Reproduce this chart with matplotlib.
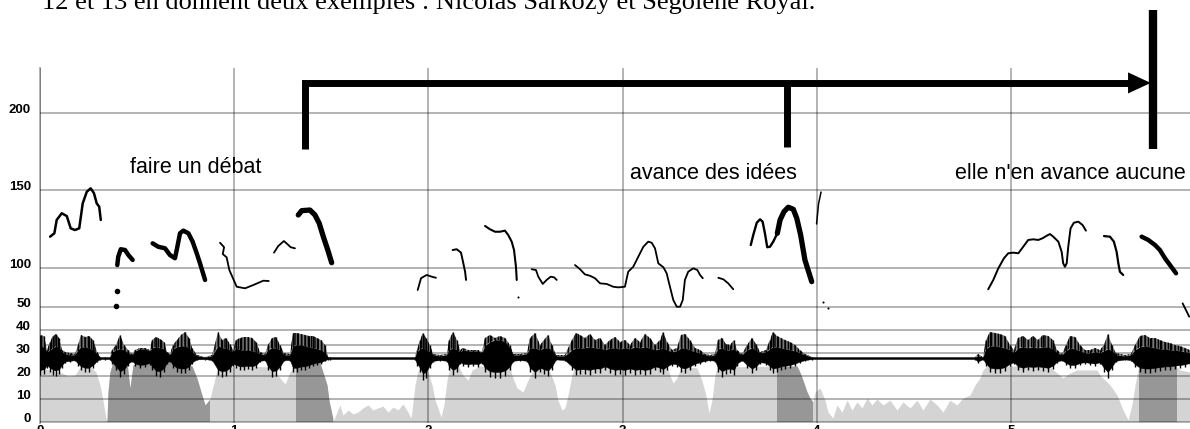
import matplotlib
matplotlib.use("Agg")
import matplotlib.pyplot as plt
from matplotlib.patches import Rectangle
from matplotlib.transforms import blended_transform_factory, ScaledTranslation

# ---------------------------------------------------------------- text
caption = "12 et 13 en donnent deux exemples : Nicolas Sarkozy et Ségolène Royal."
phrase_labels = ["faire un débat", "avance des idées", "elle n'en avance aucune"]
phrase_pos = [(0.463, 161.3), (3.038, 157.4), (4.712, 157.4)]   # (s, Hz) of text baseline start

time_ticks = [0, 1, 2, 3, 4, 5]
intensity_ticks = [0, 10, 20, 30, 40, 50]
pitch_ticks = [100, 150, 200]
pitch_grid = [50, 100, 150, 200]

# ---------------------------------------------------------------- intensity curve (dB)
int_t = [0.000, 0.051, 0.103, 0.144, 0.180, 0.206, 0.257, 0.288, 0.309, 0.324, 0.340, 0.345,
         0.350, 0.360, 0.376, 0.412, 0.448, 0.463, 0.479, 0.515, 0.618, 0.721, 0.783, 0.808,
         0.834, 0.850, 0.875, 0.891, 0.911, 0.953, 1.081, 1.184, 1.236, 1.262, 1.287, 1.318,
         1.390, 1.442, 1.457, 1.478, 1.488, 1.504, 1.514, 1.529, 1.545, 1.560, 1.586, 1.612,
         1.637, 1.663, 1.689, 1.715, 1.740, 1.766, 1.792, 1.818, 1.843, 1.869, 1.895, 1.910,
         1.916, 1.931, 1.946, 1.967, 1.998, 2.019, 2.034, 2.044, 2.065, 2.080, 2.096, 2.111,
         2.152, 2.178, 2.204, 2.225, 2.266, 2.420, 2.430, 2.456, 2.487, 2.513, 2.539, 2.600,
         2.626, 2.652, 2.667, 2.688, 2.703, 2.719, 2.739, 2.755, 3.090, 3.229, 3.244, 3.260,
         3.280, 3.296, 3.347, 3.383, 3.408, 3.429, 3.445, 3.460, 3.476, 3.486, 3.800, 3.898,
         3.913, 3.929, 3.950, 3.965, 3.981, 3.991, 4.017, 4.042, 4.058, 4.083, 4.104, 4.130,
         4.156, 4.181, 4.207, 4.233, 4.259, 4.284, 4.310, 4.341, 4.377, 4.413, 4.444, 4.480,
         4.516, 4.547, 4.583, 4.619, 4.650, 4.686, 4.722, 4.753, 4.789, 4.815, 4.840, 4.856,
         4.876, 5.046, 5.201, 5.237, 5.268, 5.304, 5.340, 5.443, 5.458, 5.510, 5.546, 5.577,
         5.603, 5.623, 5.639, 5.654, 5.664, 5.850, 5.870, 5.922]
int_db = [23.3, 22.4, 21.5, 19.8, 20.2, 23.7, 24.1, 21.5, 15.9, 9.3, 1.1, 0.2,
          12.8, 21.5, 25.9, 26.7, 25.9, 14.6, 24.6, 25.9, 26.7, 26.3, 24.1, 18.9,
          11.5, 7.2, 9.8, 15.4, 22.0, 23.7, 24.1, 23.7, 18.9, 16.3, 21.5, 24.1,
          25.4, 25.4, 21.5, 15.9, 9.3, 2.8, 0.7, 4.1, 7.2, 2.8, 5.0, 3.3,
          4.1, 5.9, 7.2, 5.0, 5.9, 6.7, 4.1, 6.3, 5.0, 7.6, 4.1, 1.5,
          5.0, 15.9, 21.5, 24.6, 21.5, 15.9, 9.3, 7.2, 2.0, 7.2, 18.0, 23.3,
          24.6, 20.2, 18.0, 22.4, 24.1, 24.1, 20.2, 14.6, 12.8, 18.0, 22.4, 23.7,
          21.5, 15.9, 9.3, 5.0, 5.9, 11.5, 20.2, 24.1, 24.1, 23.7, 20.2, 16.7,
          18.9, 22.4, 23.7, 23.3, 18.0, 11.5, 3.7, 9.3, 20.2, 23.7, 24.1, 24.1,
          21.5, 18.0, 12.8, 10.2, 8.5, 12.8, 14.6, 9.3, 4.1, 1.5, 7.2, 4.1,
          9.3, 5.0, 8.5, 5.9, 10.2, 7.2, 9.8, 7.2, 9.3, 5.0, 8.5, 5.9,
          9.3, 5.0, 9.8, 7.2, 4.1, 9.3, 7.2, 10.2, 11.5, 15.9, 18.9, 22.4,
          24.1, 24.1, 23.7, 21.1, 18.9, 21.1, 22.4, 22.4, 20.2, 15.9, 11.5, 5.0,
          0.7, 7.2, 15.9, 22.4, 24.1, 24.1, 22.4, 21.5]
# stressed syllables, shaded darker (s)
highlight_spans = [(0.345, 0.870), (1.318, 1.504), (3.795, 3.975), (5.659, 5.850)]

# ---------------------------------------------------------------- waveform envelope
wave_t = [0.000, 0.021, 0.036, 0.051, 0.067, 0.082, 0.098, 0.113, 0.129, 0.154, 0.180, 0.196,
          0.211, 0.232, 0.252, 0.273, 0.294, 0.309, 0.335, 0.360, 0.371, 0.391, 0.412, 0.433,
          0.453, 0.474, 0.489, 0.515, 0.541, 0.566, 0.577, 0.597, 0.618, 0.639, 0.654, 0.669,
          0.685, 0.705, 0.726, 0.747, 0.767, 0.783, 0.808, 0.850, 0.886, 0.917, 0.937, 0.958,
          0.978, 0.994, 1.009, 1.030, 1.050, 1.071, 1.092, 1.112, 1.133, 1.159, 1.174, 1.195,
          1.215, 1.236, 1.256, 1.287, 1.303, 1.323, 1.344, 1.365, 1.385, 1.406, 1.426, 1.447,
          1.468, 1.483, 1.493, 1.931, 1.941, 1.957, 1.972, 1.988, 2.008, 2.024, 2.060, 2.096,
          2.106, 2.127, 2.147, 2.163, 2.178, 2.204, 2.230, 2.255, 2.276, 2.291, 2.317, 2.343,
          2.369, 2.394, 2.420, 2.436, 2.472, 2.508, 2.523, 2.549, 2.575, 2.595, 2.616, 2.636,
          2.657, 2.703, 2.739, 2.760, 2.781, 2.806, 2.832, 2.858, 2.884, 2.909, 2.935, 2.961,
          2.987, 3.012, 3.038, 3.064, 3.090, 3.115, 3.141, 3.167, 3.193, 3.208, 3.229, 3.254,
          3.280, 3.301, 3.321, 3.347, 3.373, 3.399, 3.424, 3.450, 3.476, 3.491, 3.512, 3.532,
          3.553, 3.574, 3.589, 3.615, 3.641, 3.666, 3.687, 3.708, 3.738, 3.759, 3.774, 3.795,
          3.816, 3.836, 3.862, 3.888, 3.913, 3.939, 3.975, 4.815, 4.830, 4.856, 4.871, 4.892,
          4.918, 4.943, 4.969, 4.995, 5.015, 5.036, 5.062, 5.088, 5.113, 5.139, 5.165, 5.191,
          5.216, 5.237, 5.263, 5.283, 5.304, 5.330, 5.355, 5.381, 5.407, 5.433, 5.458, 5.479,
          5.499, 5.520, 5.540, 5.587, 5.618, 5.639, 5.664, 5.690, 5.716, 5.742, 5.767, 5.793,
          5.819, 5.845, 5.870, 5.896, 5.922]
wave_peak = [23, 22, 8, 16, 22, 24, 20, 8, 6, 5, 4, 13,
             23, 21, 22, 18, 6, 1, 1, 1, 8, 13, 23, 13,
             8, 4, 8, 10, 10, 8, 18, 21, 19, 16, 6, 4,
             13, 18, 23, 26, 20, 10, 3, 1, 3, 26, 18, 20,
             14, 8, 18, 20, 21, 21, 20, 16, 6, 4, 13, 20,
             21, 13, 5, 4, 25, 25, 24, 23, 22, 22, 20, 18,
             13, 1, 1, 1, 8, 18, 25, 20, 13, 4, 3, 4,
             18, 26, 18, 8, 10, 8, 8, 8, 6, 20, 23, 20,
             22, 20, 13, 4, 4, 5, 20, 25, 13, 18, 23, 13,
             3, 3, 18, 25, 23, 20, 24, 18, 20, 13, 18, 21,
             16, 18, 13, 20, 16, 24, 20, 13, 18, 26, 16, 8,
             10, 23, 24, 18, 10, 8, 4, 3, 4, 18, 20, 14,
             13, 18, 8, 4, 13, 20, 14, 6, 8, 18, 26, 22,
             20, 18, 16, 13, 8, 4, 1, 1, 4, 1, 18, 26,
             25, 24, 22, 13, 8, 20, 22, 18, 22, 18, 23, 22,
             18, 8, 4, 13, 22, 21, 13, 8, 8, 10, 8, 13,
             24, 13, 5, 3, 4, 13, 22, 23, 20, 20, 18, 16,
             15, 13, 12, 10, 8]
wave_core = [13, 10, 6, 8, 10, 12, 10, 6, 4, 3, 3, 8,
             11, 11, 10, 8, 4, 1, 1, 1, 6, 8, 9, 8,
             5, 3, 7, 9, 9, 7, 10, 11, 10, 9, 5, 3,
             9, 11, 12, 12, 10, 6, 2, 1, 2, 12, 10, 10,
             8, 6, 10, 8, 8, 8, 7, 6, 4, 3, 8, 10,
             10, 8, 3, 3, 12, 13, 13, 12, 11, 10, 9, 8,
             5, 1, 1, 1, 6, 9, 10, 8, 6, 3, 2, 3,
             8, 10, 8, 6, 8, 7, 7, 7, 5, 12, 16, 18,
             18, 16, 10, 3, 3, 4, 10, 10, 8, 10, 10, 8,
             2, 2, 8, 10, 10, 10, 11, 10, 10, 8, 10, 10,
             9, 10, 9, 11, 10, 11, 10, 8, 9, 10, 8, 6,
             7, 10, 10, 8, 6, 5, 3, 2, 3, 9, 10, 8,
             8, 9, 6, 3, 8, 10, 8, 5, 6, 9, 11, 11,
             10, 9, 8, 7, 5, 3, 1, 1, 2, 1, 9, 12,
             12, 11, 10, 8, 5, 10, 11, 10, 11, 10, 11, 11,
             9, 5, 3, 7, 10, 9, 7, 5, 5, 6, 5, 7,
             9, 7, 3, 2, 3, 8, 11, 12, 11, 10, 9, 9,
             8, 8, 7, 6, 5]
wave_trough = [-17, -16, -10, -14, -17, -18, -16, -10, -5, -4, -3, -8,
               -12, -14, -14, -10, -4, -1.5, -1.5, -1.5, -6, -12, -19, -16,
               -8, -4, -8, -10, -9, -7, -12, -18, -19, -14, -6, -4,
               -10, -14, -15, -15, -12, -6, -2, -1.5, -3, -17, -19, -18,
               -14, -8, -10, -12, -12, -11, -12, -10, -4, -3, -12, -19,
               -18, -12, -3, -3, -14, -14, -12, -12, -10, -8, -7, -6,
               -3, -1.5, -1.5, -1.5, -8, -14, -22, -20, -10, -4, -3, -4,
               -12, -17, -14, -6, -8, -9, -8, -9, -6, -14, -19, -20,
               -20, -18, -12, -4, -3, -4, -14, -20, -14, -16, -18, -12,
               -2, -3, -12, -17, -16, -16, -17, -15, -15, -12, -15, -17,
               -16, -17, -15, -17, -16, -17, -16, -12, -14, -16, -12, -8,
               -9, -14, -15, -12, -8, -6, -4, -3, -4, -14, -19, -16,
               -15, -17, -8, -3, -10, -15, -12, -6, -7, -12, -15, -14,
               -12, -11, -10, -8, -5, -3, -1.5, -1.5, -5, -1.5, -8, -14,
               -15, -15, -13, -8, -6, -12, -14, -12, -13, -12, -13, -14,
               -11, -5, -3, -7, -10, -10, -7, -6, -7, -8, -6, -14,
               -20, -12, -4, -2, -3, -9, -14, -15, -15, -14, -13, -12,
               -12, -11, -10, -9, -7]

# ---------------------------------------------------------------- F0 contours (s, Hz, line width pt)
f0_segments = [
    ([0.052, 0.074, 0.086, 0.112, 0.138, 0.158, 0.180, 0.202, 0.220, 0.241, 0.261, 0.278, 0.292, 0.305, 0.313],
     [120.2, 122.4, 131.0, 135.3, 133.5, 125.6, 124.5, 125.6, 141.7, 149.2, 151.4, 148.2, 141.7, 139.5, 131.0], 1.8),
    ([0.398, 0.403, 0.416, 0.438, 0.455, 0.477],
     [101.9, 107.3, 112.1, 111.6, 108.4, 105.2], 3.2),
    ([0.580, 0.609, 0.644, 0.669, 0.695, 0.704, 0.721, 0.738, 0.764, 0.786, 0.807, 0.824, 0.850],
     [115.9, 113.7, 112.7, 108.4, 106.3, 111.6, 122.4, 124.1, 122.4, 117.0, 109.5, 103.0, 92.3], 3.2),
    ([0.927, 0.948, 0.941, 0.961, 0.975, 1.013, 1.056, 1.098, 1.150, 1.178],
     [116.3, 113.4, 109.0, 106.9, 98.7, 87.9, 86.9, 89.0, 91.8, 91.6], 1.3),
    ([1.205, 1.227, 1.256, 1.273, 1.291, 1.313],
     [109.9, 114.2, 117.4, 115.5, 113.4, 112.7], 1.3),
    ([1.330, 1.348, 1.390, 1.416, 1.438, 1.459, 1.482, 1.502],
     [134.2, 137.0, 137.4, 134.2, 128.8, 120.2, 111.6, 103.4], 3.8),
    ([1.945, 1.962, 1.991, 2.017, 2.039],
     [85.8, 93.4, 95.5, 94.4, 93.7], 1.3),
    ([2.125, 2.146, 2.168, 2.180, 2.189, 2.194],
     [111.6, 112.1, 109.9, 103.0, 97.6, 92.3], 1.4),
    ([2.292, 2.317, 2.343, 2.369, 2.394, 2.411, 2.429, 2.441, 2.451, 2.455],
     [127.1, 125.0, 123.4, 123.4, 124.1, 121.3, 117.0, 111.6, 100.8, 92.3], 1.5),
    ([2.532, 2.554, 2.566, 2.589, 2.609, 2.630, 2.647, 2.661],
     [99.2, 98.7, 94.4, 89.7, 92.3, 94.4, 94.0, 92.3], 1.3),
    ([2.755, 2.781, 2.806, 2.832, 2.858, 2.884, 2.918, 2.952, 2.978, 3.012, 3.029, 3.055, 3.081,
      3.107, 3.132, 3.150, 3.167, 3.184, 3.210, 3.227, 3.244, 3.261, 3.279, 3.296, 3.310, 3.321,
      3.338, 3.364, 3.385, 3.399, 3.413],
     [101.9, 99.2, 95.9, 95.0, 93.4, 90.1, 89.7, 87.9, 87.5, 87.9, 97.6, 100.8, 107.3,
      113.7, 117.0, 116.3, 112.7, 103.0, 100.5, 96.6, 87.9, 79.4, 75.0, 75.0, 79.4, 92.3,
      97.6, 99.8, 98.7, 95.5, 93.4], 1.3),
    ([3.493, 3.519, 3.544, 3.570],
     [93.7, 92.7, 90.1, 86.3], 1.3),
    ([3.660, 3.673, 3.691, 3.708, 3.721, 3.733, 3.745, 3.759, 3.776, 3.797],
     [114.8, 121.3, 129.2, 131.4, 129.9, 122.4, 113.4, 113.7, 117.0, 122.4], 1.7),
    ([3.797, 3.811, 3.831, 3.853, 3.879, 3.897, 3.917, 3.939, 3.974],
     [122.4, 131.0, 136.3, 139.2, 137.9, 132.1, 121.3, 105.2, 91.2], 3.8),
    ([4.022, 4.009, 3.999],
     [149.0, 141.3, 128.4], 1.1),
    ([4.883, 4.909, 4.935, 4.964, 4.986, 5.012, 5.038, 5.063, 5.089, 5.115, 5.141, 5.163, 5.184,
      5.201, 5.218, 5.244, 5.261, 5.269, 5.278, 5.287, 5.295, 5.307, 5.324, 5.347, 5.369, 5.386],
     [86.3, 92.3, 99.8, 106.3, 109.5, 109.9, 109.5, 113.7, 118.1, 118.5, 118.1, 119.2, 120.8,
      121.9, 120.2, 117.0, 110.5, 103.0, 100.8, 103.0, 113.7, 125.6, 129.2, 129.9, 127.7, 124.1], 1.4),
    ([5.479, 5.510, 5.530, 5.544, 5.553, 5.561, 5.578],
     [120.6, 120.2, 117.0, 110.5, 103.0, 97.6, 95.5], 1.6),
    ([5.673, 5.707, 5.742, 5.767, 5.793, 5.819, 5.850],
     [120.2, 118.1, 114.8, 111.6, 106.3, 101.9, 96.6], 3.2),
    ([5.884, 5.901, 5.918],
     [77.2, 72.9, 68.6], 1.3),
]
f0_dots_t = [0.395, 0.390, 2.463, 4.032, 4.058]
f0_dots_hz = [85.4, 75.5, 81.5, 78.1, 74.2]
f0_dots_size = [4.0, 4.0, 1.5, 1.5, 1.5]

# bracket over the stretch of speech (s, Hz)
bracket_left_t, bracket_mid_t, bracket_right_t = 1.365, 3.847, 5.731
bracket_level_hz = 219.4
bracket_foot_hz = 176.5
bracket_top_hz = 266.5

# ---------------------------------------------------------------- styles
light_grey = "#d4d4d4"
dark_grey = "#979797"
grid_alpha = 0.32
grid_lw = 1.3
label_font = dict(family="Liberation Sans", fontsize=9.5, fontweight="bold", color="black")

fig = plt.figure(figsize=(11.9, 4.29), dpi=100)
ax = fig.add_axes([40 / 1190, 6 / 429, 1150 / 1190, 355 / 429])
ax.set_xlim(0, 5.922)
ax.set_ylim(-0.652, 153.7)

# intensity area, with the stressed syllables in a darker shade
ax.fill_between(int_t, 0, int_db, color=light_grey, lw=0, zorder=1)
for a, b in highlight_spans:
    dark = ax.fill_between(int_t, 0, int_db, color=dark_grey, lw=0, zorder=1.1)
    dark.set_clip_path(Rectangle((a, -5), b - a, 200, transform=ax.transData))

ax.set_xticks(time_ticks)
ax.set_xticklabels([str(v) for v in time_ticks], **label_font)
ax.set_yticks(intensity_ticks)
ax.set_yticklabels([])
ax.tick_params(axis="both", length=0)
ax.tick_params(axis="x", pad=1.5)
ax.grid(True, color="black", alpha=grid_alpha, lw=grid_lw)
for s in ["top", "right", "bottom"]:
    ax.spines[s].set_visible(False)
ax.spines["left"].set_color("black")
ax.spines["left"].set_alpha(grid_alpha)
ax.spines["left"].set_linewidth(grid_lw)

lab_shift = ScaledTranslation(-9 / 100, 3 / 100, fig.dpi_scale_trans)
tr_int = blended_transform_factory(ax.transAxes, ax.transData) + lab_shift
for v in intensity_ticks:
    ax.text(0, v, str(v), transform=tr_int, ha="right", va="center", **label_font)

# pitch axis
ax2 = ax.twinx()
ax2.set_ylim(0, 229.03)
ax2.set_yticks(pitch_grid)
ax2.set_yticklabels([])
ax2.tick_params(axis="both", length=0)
ax2.grid(True, axis="y", color="black", alpha=grid_alpha, lw=grid_lw)
for s in ax2.spines.values():
    s.set_visible(False)
tr_pitch = blended_transform_factory(ax2.transAxes, ax2.transData) + lab_shift
for v in pitch_ticks:
    ax2.text(0, v, str(v), transform=tr_pitch, ha="right", va="center", **label_font)

for seg_t, seg_hz, w in f0_segments:
    ax2.plot(seg_t, seg_hz, color="black", lw=w, solid_capstyle="round", solid_joinstyle="round")
for t, hz, s in zip(f0_dots_t, f0_dots_hz, f0_dots_size):
    ax2.plot([t], [hz], "o", color="black", ms=s, mew=0)

for txt, (t, hz) in zip(phrase_labels, phrase_pos):
    ax2.text(t, hz, txt, family="Liberation Sans", fontsize=15.5, va="baseline", ha="left")

# bracket with arrow
ax2.plot([bracket_left_t, bracket_left_t, 5.62], [bracket_foot_hz, bracket_level_hz, bracket_level_hz],
         color="black", lw=5, solid_joinstyle="miter", solid_capstyle="butt", clip_on=False)
ax2.plot([bracket_mid_t, bracket_mid_t], [bracket_level_hz, bracket_foot_hz + 1.3],
         color="black", lw=5, solid_capstyle="butt", clip_on=False)
ax2.plot([bracket_right_t, bracket_right_t], [bracket_top_hz, bracket_foot_hz],
         color="black", lw=6, solid_capstyle="butt", clip_on=False)
ax2.fill([5.603, 5.720, 5.603], [bracket_level_hz + 6.8, bracket_level_hz, bracket_level_hz - 6.8],
         color="black", lw=0, clip_on=False)

# waveform: striated upper half, dense lower half, one stroke per envelope sample
ax3 = ax.twinx()
ax3.set_ylim(-65, 290)
ax3.set_yticks([])
for s in ax3.spines.values():
    s.set_visible(False)
ax3.fill_between(wave_t, wave_core, wave_peak, facecolor="#7a7a7a", edgecolor="black",
                 hatch="|||||", lw=0)
ax3.fill_between(wave_t, [0.7 * v for v in wave_trough], wave_core, color="black", lw=0.3)
ax3.vlines(wave_t, wave_trough, wave_peak, color="black", lw=1.0)

fig.text(42 / 1190, 1 - 9 / 429, caption, family="Liberation Serif", fontsize=19,
         va="baseline", ha="left")

fig.savefig("out.png", dpi=100)
